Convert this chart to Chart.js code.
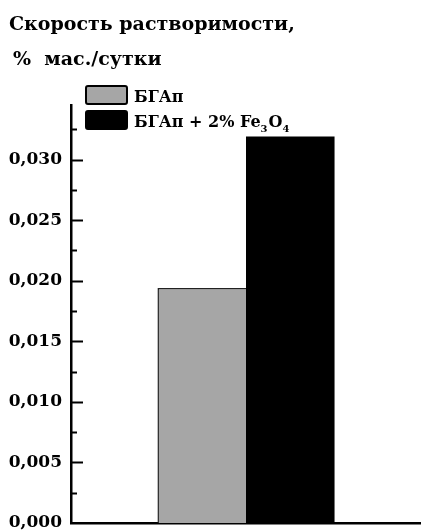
<!DOCTYPE html>
<html>
<head>
<meta charset="utf-8">
<script src="https://cdn.jsdelivr.net/npm/chart.js@4"></script>
<style>
  html, body { margin: 0; padding: 0; background: #fff; }
  #wrap { width: 421px; height: 532px; position: relative; }
</style>
</head>
<body>
<div id="wrap"><canvas id="rateChart"></canvas></div>
<script>
// data
const categories = [""];
const seriesLabels = ["БГАп", "БГАп + 2% Fe3O4"];
const valuesBGAp = [0.0194];
const valuesBGApFe = [0.0319];
const yTickValues = [0, 0.005, 0.01, 0.015, 0.02, 0.025, 0.03];
const titleLines = ["Скорость растворимости,", "%  мас./сутки"];

const FONT = "'DejaVu Serif', 'Liberation Serif', serif";

// title, legend and inward ticks are drawn by hand
const decorPlugin = {
    id: "decor",
    afterDraw(chart) {
        const ctx = chart.ctx;
        const y = chart.scales.y;
        const area = chart.chartArea;
        ctx.save();

        // title
        ctx.fillStyle = "#000";
        ctx.font = "bold 19px " + FONT;
        ctx.textBaseline = "alphabetic";
        ctx.textAlign = "left";
        ctx.fillText(titleLines[0], 9, 30);
        ctx.fillText(titleLines[1], 13, 65);

        // inward ticks, major every 0.005 and minor in between
        ctx.strokeStyle = "#000";
        ctx.lineWidth = 2;
        for (let i = 1; i <= 13; i++) {
            const py = Math.round(y.getPixelForValue(i * 0.0025)) + 0.5;
            const len = i % 2 === 0 ? 12 : 6;
            ctx.beginPath();
            ctx.moveTo(area.left, py);
            ctx.lineTo(area.left + len, py);
            ctx.stroke();
        }

        // legend
        const boxes = [[86, 86], [86, 111]];
        chart.data.datasets.forEach((d, i) => {
            const [bx, by] = boxes[i];
            ctx.fillStyle = d.backgroundColor;
            ctx.strokeStyle = "#000";
            ctx.lineWidth = 2;
            ctx.beginPath();
            ctx.roundRect(bx, by, 41, 18, 2);
            ctx.fill();
            ctx.stroke();
            ctx.fillStyle = "#000";
            drawLabel(ctx, d.label, 134, by + 16);
        });
        ctx.restore();
    }
};

function drawLabel(ctx, text, x, baseline) {
    // digits after a chemical letter go to subscript
    const big = "bold 16px " + FONT;
    const small = "bold 10px " + FONT;
    const m = text.match(/^(.*Fe)(\d)(O)(\d)$/);
    if (!m) {
        ctx.font = big;
        ctx.fillText(text, x, baseline);
        return;
    }
    let cx = x;
    [[m[1], big, 0], [m[2], small, 5], [m[3], big, 0], [m[4], small, 5]].forEach(([t, f, dy]) => {
        ctx.font = f;
        ctx.fillText(t, cx, baseline + dy);
        cx += ctx.measureText(t).width + (dy ? 1 : 0);
    });
}

new Chart(document.getElementById("rateChart"), {
    type: "bar",
    data: {
        labels: categories,
        datasets: [
            {
                label: seriesLabels[0],
                data: valuesBGAp,
                backgroundColor: "#a6a6a6",
                borderColor: "#222",
                borderWidth: { top: 1.5, left: 1.5, right: 0, bottom: 0 },
                borderSkipped: false
            },
            {
                label: seriesLabels[1],
                data: valuesBGApFe,
                backgroundColor: "#000",
                borderWidth: 0
            }
        ]
    },
    options: {
        responsive: true,
        maintainAspectRatio: false,
        animation: false,
        layout: { padding: { top: 105, bottom: 9, left: 0, right: 0 } },
        plugins: {
            legend: { display: false },
            title: { display: false },
            tooltip: { enabled: false }
        },
        datasets: {
            bar: { categoryPercentage: 0.506, barPercentage: 1 }
        },
        scales: {
            x: {
                grid: { display: false },
                ticks: { display: false },
                border: { display: true, color: "#000", width: 2.5 },
                afterFit(scale) { scale.height = 0; }
            },
            y: {
                min: 0,
                max: 0.0345,
                grid: { display: false, drawTicks: false },
                border: { display: true, color: "#000", width: 2.5 },
                afterFit(scale) {
                    scale.width = 71;
                    // let the bottom label hang below the axis like the original
                    scale.paddingBottom = 0;
                },
                afterBuildTicks(scale) {
                    scale.ticks = yTickValues.map(v => ({ value: v }));
                },
                ticks: {
                    color: "#000",
                    padding: 9,
                    font: { family: FONT, size: 17, weight: "bold" },
                    callback: v => v.toFixed(3).replace(".", ",")
                }
            }
        }
    },
    plugins: [decorPlugin]
});
</script>
</body>
</html>
